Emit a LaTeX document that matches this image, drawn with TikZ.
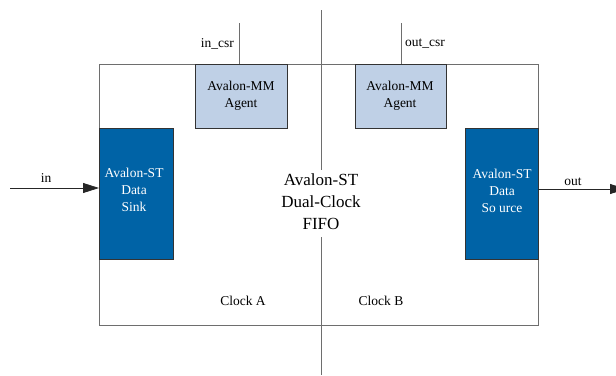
\documentclass[tikz,border=0pt]{standalone}
\usepackage{fontspec}
\setmainfont{Liberation Serif}
\usetikzlibrary{arrows.meta}
\definecolor{stblue}{HTML}{0063A6}
\definecolor{mmblue}{HTML}{BFD0E6}
\definecolor{linegray}{HTML}{6E6E6E}
\begin{document}
\begin{tikzpicture}[x=1pt,y=-1pt,
  frame/.style={draw=linegray,line width=1pt},
  mmbox/.style={draw=black!80,line width=1pt,fill=mmblue,inner sep=0pt,outer sep=0pt},
  stbox/.style={draw=black!80,line width=1pt,fill=stblue,inner sep=0pt,outer sep=0pt},
  boxtext/.style={font=\fontsize{13.5}{17}\selectfont,align=center,inner sep=0pt},
  sttext/.style={boxtext,text=white},
  lbl/.style={font=\fontsize{13.5}{15}\selectfont,inner sep=0pt},
  sig/.style={draw=black!85,line width=0.8pt},
  wire/.style={draw=linegray,line width=1pt},
  arr/.style={sig,-{Triangle[length=16pt,width=10pt]}}
]
\useasboundingbox (0,0) rectangle (616,375);
% outer frame
\draw[frame] (99,64) rectangle (538,325);
% clock divider
\coordinate (dtop) at (321,10);
\coordinate (dmid1) at (321,170);
\coordinate (dmid2) at (321,237);
\coordinate (dbot) at (321,375);
\draw[wire] (dtop) -- (dmid1);
\draw[wire] (dmid2) -- (dbot);
% MM agents
\path[mmbox] (195,64) rectangle (287,128);
\node[boxtext] (mmA) at (241,96) {Avalon-MM\\Agent};
\path[mmbox] (355,64) rectangle (446,128);
\node[boxtext] (mmB) at (400,96) {Avalon-MM\\Agent};
\coordinate (mmAtop) at (239,64);
\coordinate (mmBtop) at (401,64);
\coordinate (csrA) at (239,23);
\coordinate (csrB) at (401,23);
\draw[wire] (csrA) -- (mmAtop);
\draw[wire] (csrB) -- (mmBtop);
\node[lbl,anchor=east] (lcsrA) at (234,44) {in\_csr};
\node[lbl,anchor=west] (lcsrB) at (405,44) {out\_csr};
% ST boxes
\path[stbox] (99,128) rectangle (173,259);
\node[sttext] (sink) at (134,190) {Avalon-ST\\Data\\Sink};
\path[stbox] (465,128) rectangle (538,259);
\node[sttext] (src) at (502,191) {Avalon-ST\\Data\\So urce};
% center text
\node[font=\fontsize{17}{22}\selectfont,align=center,inner sep=0pt] (fifo) at (321,202) {Avalon-ST\\Dual-Clock\\FIFO};
% clocks
\node[lbl] (clkA) at (243,301) {Clock A};
\node[lbl] (clkB) at (381,301) {Clock B};
% in/out
\coordinate (inS) at (10,188);
\coordinate (inE) at (99,188);
\draw[arr] (inS) -- (inE);
\node[lbl] (lin) at (46,178) {in};
\coordinate (outS) at (538,189);
\coordinate (outE) at (626,189);
\draw[arr] (outS) -- (outE);
\node[lbl] (lout) at (573,182) {out};
\end{tikzpicture}
\end{document}
